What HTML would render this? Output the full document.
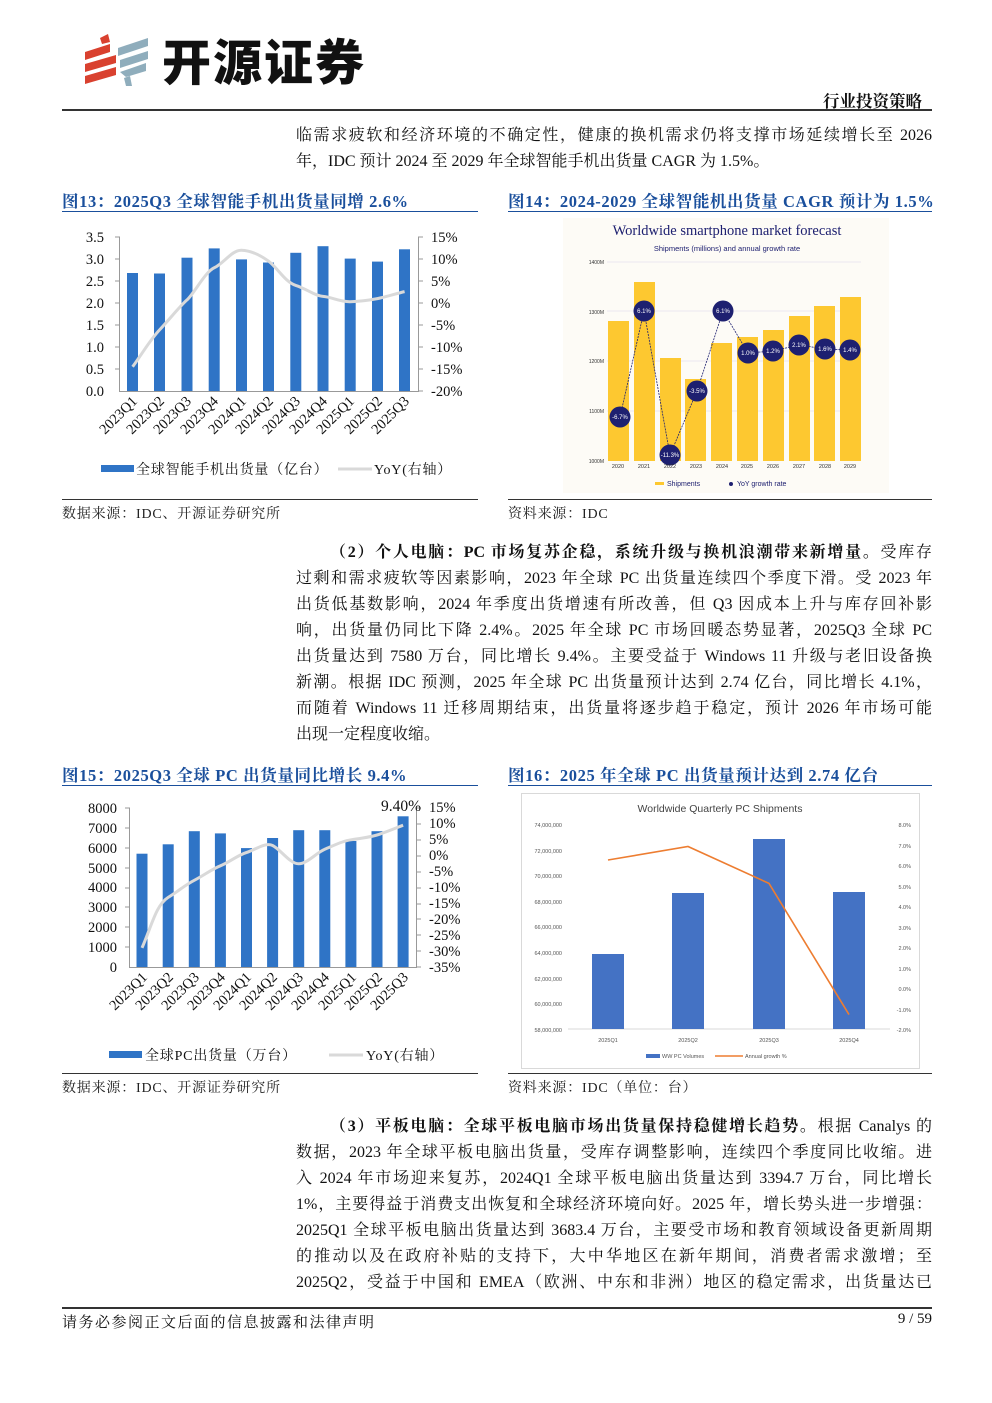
<!DOCTYPE html>
<html><head><meta charset="utf-8"><style>
*{margin:0;padding:0;box-sizing:border-box}
body{width:992px;height:1403px;background:#fff;position:relative;overflow:hidden;font-family:"Liberation Serif","Noto Serif CJK SC",serif;color:#111}
.a{position:absolute}
.ln{position:absolute;left:296px;width:636px;font-size:16px;line-height:26px;height:26px;white-space:nowrap;text-align:justify;text-align-last:justify}
.ln.l{text-align-last:left}
.ft{position:absolute;font-size:16.5px;font-weight:bold;color:#1a4f9c;white-space:nowrap;letter-spacing:0.6px}
.src{position:absolute;font-size:14px;color:#222;white-space:nowrap;letter-spacing:0.8px}
.sv text{font-family:"Liberation Serif","Noto Serif CJK SC",serif}
.ss text{font-family:"Liberation Sans",sans-serif}
.ss text.ser{font-family:"Liberation Serif",serif}
</style></head><body>
<!-- logo -->
<svg class="a" style="left:80px;top:30px" width="80" height="60" viewBox="0 0 80 60">
<g fill="#d9412f"><polygon points="5,22 30,14 30,22 5,30"/><polygon points="5,34 36,25 36,33 5,42"/><polygon points="5,46 36,37 36,45 5,54"/><polygon points="20,8 28,4 30,12 22,14"/></g>
<g fill="#8fadbc"><polygon points="38,18 68,8 68,16 38,26"/><polygon points="40,30 68,21 68,29 40,38"/><polygon points="40,42 66,33 66,41 46,47"/><polygon points="44,48 50,46 52,56 46,56"/></g>
</svg>
<div class="a" style="left:162px;top:28px;font-family:'Noto Sans CJK SC',sans-serif;font-weight:900;font-size:49px;line-height:64px;color:#111;letter-spacing:2px">开源证券</div>
<div class="a" style="left:823px;top:88px;font-size:16.5px;font-weight:bold;font-family:'Noto Serif CJK SC',serif">行业投资策略</div>
<div class="a" style="left:62px;top:109px;width:870px;height:1.5px;background:#333"></div>

<div class="ln" style="top:123px">临需求疲软和经济环境的不确定性，健康的换机需求仍将支撑市场延续增长至 2026</div>
<div class="ln l" style="top:149px">年，IDC 预计 2024 至 2029 年全球智能手机出货量 CAGR 为 1.5%。</div>

<div class="ft" style="left:62px;top:188px">图13：2025Q3 全球智能手机出货量同增 2.6%</div>
<div class="ft" style="left:508px;top:188px">图14：2024-2029 全球智能机出货量 CAGR 预计为 1.5%</div>
<div class="a" style="left:62px;top:211px;width:416px;height:1px;background:#1a4f9c"></div>
<div class="a" style="left:508px;top:211px;width:424px;height:1px;background:#1a4f9c"></div>

<!-- chart 13 -->
<svg class="a sv" style="left:0;top:0" width="496" height="500">
<g fill="#2f74c6">
<rect x="127" y="273" width="11" height="118"/><rect x="154" y="273.5" width="11" height="117.5"/><rect x="181.5" y="257.7" width="11" height="133.3"/><rect x="208.7" y="248.4" width="11" height="142.6"/><rect x="236" y="259.4" width="11" height="131.6"/><rect x="263" y="262.5" width="11" height="128.5"/><rect x="290.3" y="252.8" width="11" height="138.2"/><rect x="317.5" y="246.2" width="11" height="144.8"/><rect x="344.7" y="258.6" width="11" height="132.4"/><rect x="372" y="261.6" width="11" height="129.4"/><rect x="399" y="249.3" width="11" height="141.7"/>
</g>
<g stroke="#999" stroke-width="1" fill="none"><path d="M119.5 237V391.5H418.5V237"/>
<path d="M115 237h5M115 259h5M115 281h5M115 303h5M115 325h5M115 347h5M115 369h5M418 237h5M418 259h5M418 281h5M418 303h5M418 325h5M418 347h5M418 369h5M418 391h5"/></g>
<path d="M132.6 366.8 C146 348,150 340,159.8 329.6 S180 306,187 299.9 S205 272,214.2 267.8 S232 250,241.4 250.2 S260 255,268.6 261.2 S285 282,295.8 285.4 S315 296,323 296.4 S340 302,350.2 301.7 S370 300,377.4 298.6 S398 293,404.6 291.6" fill="none" stroke="#d9d9d9" stroke-width="3"/>
<g font-size="14.5" text-anchor="end" fill="#111"><text x="104" y="242">3.5</text><text x="104" y="264">3.0</text><text x="104" y="286">2.5</text><text x="104" y="308">2.0</text><text x="104" y="330">1.5</text><text x="104" y="352">1.0</text><text x="104" y="374">0.5</text><text x="104" y="396">0.0</text></g>
<g font-size="14.5" fill="#111"><text x="431" y="242">15%</text><text x="431" y="264">10%</text><text x="431" y="286">5%</text><text x="431" y="308">0%</text><text x="431" y="330">-5%</text><text x="431" y="352">-10%</text><text x="431" y="374">-15%</text><text x="431" y="396">-20%</text></g>
<g font-size="14.5" text-anchor="end" fill="#111">
<text transform="translate(138,402) rotate(-45)">2023Q1</text><text transform="translate(165,402) rotate(-45)">2023Q2</text><text transform="translate(192,402) rotate(-45)">2023Q3</text><text transform="translate(219,402) rotate(-45)">2023Q4</text><text transform="translate(247,402) rotate(-45)">2024Q1</text><text transform="translate(274,402) rotate(-45)">2024Q2</text><text transform="translate(301,402) rotate(-45)">2024Q3</text><text transform="translate(328,402) rotate(-45)">2024Q4</text><text transform="translate(355,402) rotate(-45)">2025Q1</text><text transform="translate(383,402) rotate(-45)">2025Q2</text><text transform="translate(410,402) rotate(-45)">2025Q3</text></g>
<rect x="101" y="465" width="33" height="7" fill="#2f74c6"/>
<text x="136" y="474" font-size="14" fill="#111" letter-spacing="0.8">全球智能手机出货量（亿台）</text>
<line x1="338" y1="469" x2="372" y2="469" stroke="#d9d9d9" stroke-width="3"/>
<text x="374" y="474" font-size="14" fill="#111" letter-spacing="0.8">YoY(右轴）</text>
</svg>

<!-- chart 14 -->
<svg class="a ss" style="left:563px;top:218px" width="326" height="275">
<rect width="326" height="275" fill="#fdfbf6"/>
<text class="ser" x="164" y="17" font-size="14.5" fill="#1e2070" text-anchor="middle">Worldwide smartphone market forecast</text>
<text x="164" y="33" font-size="7.5" fill="#1e2070" text-anchor="middle">Shipments (millions) and annual growth rate</text>
<g stroke="#e4e0ee" stroke-width="0.8"><line x1="44" y1="44" x2="298" y2="44"/><line x1="44" y1="93" x2="298" y2="93"/><line x1="44" y1="143" x2="298" y2="143"/><line x1="44" y1="193" x2="298" y2="193"/></g>
<g font-size="5" fill="#333" text-anchor="end"><text x="41" y="46">1400M</text><text x="41" y="96">1300M</text><text x="41" y="145">1200M</text><text x="41" y="195">1100M</text><text x="41" y="245">1000M</text></g>
<g fill="#fdc830">
<rect x="45" y="103" width="21" height="140"/><rect x="71" y="64" width="21" height="179"/><rect x="97" y="140" width="21" height="103"/><rect x="122" y="161" width="21" height="82"/><rect x="148" y="125" width="21" height="118"/><rect x="174" y="119" width="21" height="124"/><rect x="200" y="112" width="21" height="131"/><rect x="226" y="98" width="21" height="145"/><rect x="251" y="88" width="21" height="155"/><rect x="277" y="79" width="21" height="164"/>
</g>
<polyline points="57,199 81,93 107,237 134,173 160,93 185,135 210,133 236,127 262,131 287,132" fill="none" stroke="#1e2070" stroke-width="0.8" stroke-dasharray="2,1"/>
<g fill="#1e2070"><circle cx="57" cy="199" r="10.5"/><circle cx="81" cy="93" r="10.5"/><circle cx="107" cy="237" r="10.5"/><circle cx="134" cy="173" r="10.5"/><circle cx="160" cy="93" r="10.5"/><circle cx="185" cy="135" r="10.5"/><circle cx="210" cy="133" r="10.5"/><circle cx="236" cy="127" r="10.5"/><circle cx="262" cy="131" r="10.5"/><circle cx="287" cy="132" r="10.5"/></g>
<g font-size="6" fill="#fff" text-anchor="middle"><text x="57" y="201">-6.7%</text><text x="81" y="95">6.1%</text><text x="107" y="239">-11.3%</text><text x="134" y="175">-3.5%</text><text x="160" y="95">6.1%</text><text x="185" y="137">1.0%</text><text x="210" y="135">1.2%</text><text x="236" y="129">2.1%</text><text x="262" y="133">1.6%</text><text x="287" y="134">1.4%</text></g>
<g font-size="5.5" fill="#333" text-anchor="middle"><text x="55" y="250">2020</text><text x="81" y="250">2021</text><text x="107" y="250">2022</text><text x="133" y="250">2023</text><text x="159" y="250">2024</text><text x="184" y="250">2025</text><text x="210" y="250">2026</text><text x="236" y="250">2027</text><text x="262" y="250">2028</text><text x="287" y="250">2029</text></g>
<rect x="92" y="264" width="9" height="3" fill="#fdc830"/><text x="104" y="268" font-size="7" fill="#1e2070">Shipments</text>
<circle cx="168" cy="266" r="2" fill="#1e2070"/><text x="174" y="268" font-size="7" fill="#1e2070">YoY growth rate</text>
</svg>

<div class="a" style="left:62px;top:499px;width:416px;height:1px;background:#333"></div>
<div class="a" style="left:508px;top:499px;width:424px;height:1px;background:#333"></div>
<div class="src" style="left:62px;top:503px">数据来源：IDC、开源证券研究所</div>
<div class="src" style="left:508px;top:503px">资料来源：IDC</div>

<div class="ln" style="top:540px;left:330px;width:602px"><b>（2）个人电脑：PC 市场复苏企稳，系统升级与换机浪潮带来新增量。</b>受库存</div>
<div class="ln" style="top:566px">过剩和需求疲软等因素影响，2023 年全球 PC 出货量连续四个季度下滑。受 2023 年</div>
<div class="ln" style="top:592px">出货低基数影响，2024 年季度出货增速有所改善，但 Q3 因成本上升与库存回补影</div>
<div class="ln" style="top:618px">响，出货量仍同比下降 2.4%。2025 年全球 PC 市场回暖态势显著，2025Q3 全球 PC</div>
<div class="ln" style="top:644px">出货量达到 7580 万台，同比增长 9.4%。主要受益于 Windows 11 升级与老旧设备换</div>
<div class="ln" style="top:670px">新潮。根据 IDC 预测，2025 年全球 PC 出货量预计达到 2.74 亿台，同比增长 4.1%，</div>
<div class="ln" style="top:696px">而随着 Windows 11 迁移周期结束，出货量将逐步趋于稳定，预计 2026 年市场可能</div>
<div class="ln l" style="top:722px">出现一定程度收缩。</div>

<div class="ft" style="left:62px;top:762px">图15：2025Q3 全球 PC 出货量同比增长 9.4%</div>
<div class="ft" style="left:508px;top:762px">图16：2025 年全球 PC 出货量预计达到 2.74 亿台</div>
<div class="a" style="left:62px;top:785px;width:416px;height:1px;background:#1a4f9c"></div>
<div class="a" style="left:508px;top:785px;width:424px;height:1px;background:#1a4f9c"></div>

<!-- chart 15 -->
<svg class="a sv" style="left:0;top:0" width="496" height="1080">
<g fill="#2f74c6">
<rect x="136.5" y="853.7" width="11" height="113.3"/><rect x="162.7" y="844.3" width="11" height="122.7"/><rect x="188.8" y="831.2" width="11" height="135.8"/><rect x="214.9" y="833.4" width="11" height="133.6"/><rect x="241" y="848.1" width="11" height="118.9"/><rect x="267.1" y="838" width="11" height="129"/><rect x="293.2" y="830.2" width="11" height="136.8"/><rect x="319.3" y="830.2" width="11" height="136.8"/><rect x="345.4" y="841" width="11" height="126"/><rect x="371.5" y="831.2" width="11" height="135.8"/><rect x="397.6" y="816.3" width="11" height="150.7"/>
</g>
<g stroke="#999" stroke-width="1" fill="none"><path d="M129.5 808V967.5H416.5V808"/>
<path d="M125 808h5M125 828h5M125 848h5M125 868h5M125 888h5M125 907h5M125 927h5M125 947h5M416 808h5M416 824h5M416 840h5M416 856h5M416 872h5M416 888h5M416 904h5M416 919h5M416 935h5M416 951h5M416 967h5"/></g>
<path d="M142 947.9 C152 925,156 905,168.2 897.4 S185 885,194.3 880.3 S212 869,220.4 865.8 S238 855,246.5 852.5 S265 842,272.6 845.5 S290 864,298.7 863.8 S316 853,324.8 849.3 S342 841,350.9 839.8 S370 837,377 835 S396 828,403.1 825.2" fill="none" stroke="#d9d9d9" stroke-width="3"/>
<g font-size="14.5" text-anchor="end" fill="#111"><text x="117" y="813">8000</text><text x="117" y="833">7000</text><text x="117" y="853">6000</text><text x="117" y="873">5000</text><text x="117" y="892">4000</text><text x="117" y="912">3000</text><text x="117" y="932">2000</text><text x="117" y="952">1000</text><text x="117" y="972">0</text></g>
<g font-size="14.5" fill="#111"><text x="429" y="812">15%</text><text x="429" y="828">10%</text><text x="429" y="844">5%</text><text x="429" y="860">0%</text><text x="429" y="876">-5%</text><text x="429" y="892">-10%</text><text x="429" y="908">-15%</text><text x="429" y="924">-20%</text><text x="429" y="940">-25%</text><text x="429" y="956">-30%</text><text x="429" y="972">-35%</text></g>
<text x="381" y="811" font-size="15.5" fill="#111">9.40%</text>
<g font-size="14.5" text-anchor="end" fill="#111">
<text transform="translate(148,978) rotate(-45)">2023Q1</text><text transform="translate(174,978) rotate(-45)">2023Q2</text><text transform="translate(200,978) rotate(-45)">2023Q3</text><text transform="translate(226,978) rotate(-45)">2023Q4</text><text transform="translate(252,978) rotate(-45)">2024Q1</text><text transform="translate(278,978) rotate(-45)">2024Q2</text><text transform="translate(304,978) rotate(-45)">2024Q3</text><text transform="translate(330,978) rotate(-45)">2024Q4</text><text transform="translate(357,978) rotate(-45)">2025Q1</text><text transform="translate(383,978) rotate(-45)">2025Q2</text><text transform="translate(409,978) rotate(-45)">2025Q3</text></g>
<rect x="109" y="1051" width="33" height="7" fill="#2f74c6"/>
<text x="145" y="1060" font-size="14" fill="#111" letter-spacing="0.8">全球PC出货量（万台）</text>
<line x1="329" y1="1055" x2="363" y2="1055" stroke="#d9d9d9" stroke-width="3"/>
<text x="366" y="1060" font-size="14" fill="#111" letter-spacing="0.8">YoY(右轴）</text>
</svg>

<!-- chart 16 -->
<svg class="a ss" style="left:521px;top:793px" width="399" height="276">
<rect x="0.5" y="0.5" width="398" height="275" fill="#fff" stroke="#d9d9d9"/>
<g transform="translate(-521,-793)">
<text x="720" y="812" font-size="10.5" fill="#444" text-anchor="middle">Worldwide Quarterly PC Shipments</text>
<line x1="568" y1="1029" x2="890" y2="1029" stroke="#d9d9d9"/>
<g fill="#4472c4"><rect x="592" y="954" width="32" height="75"/><rect x="672" y="893" width="32" height="136"/><rect x="753" y="839" width="32" height="190"/><rect x="833" y="892" width="32" height="137"/></g>
<polyline points="608,860 688,846.5 769,883.4 849,1014.6" fill="none" stroke="#ed7d31" stroke-width="1.6"/>
<g font-size="5.5" fill="#555" text-anchor="end"><text x="562" y="827">74,000,000</text><text x="562" y="853">72,000,000</text><text x="562" y="878">70,000,000</text><text x="562" y="904">68,000,000</text><text x="562" y="929">66,000,000</text><text x="562" y="955">64,000,000</text><text x="562" y="981">62,000,000</text><text x="562" y="1006">60,000,000</text><text x="562" y="1032">58,000,000</text></g>
<g font-size="5.5" fill="#555" text-anchor="end"><text x="911" y="827">8.0%</text><text x="911" y="848">7.0%</text><text x="911" y="868">6.0%</text><text x="911" y="889">5.0%</text><text x="911" y="909">4.0%</text><text x="911" y="930">3.0%</text><text x="911" y="950">2.0%</text><text x="911" y="971">1.0%</text><text x="911" y="991">0.0%</text><text x="911" y="1012">-1.0%</text><text x="911" y="1032">-2.0%</text></g>
<g font-size="5.5" fill="#555" text-anchor="middle"><text x="608" y="1042">2025Q1</text><text x="688" y="1042">2025Q2</text><text x="769" y="1042">2025Q3</text><text x="849" y="1042">2025Q4</text></g>
<rect x="646" y="1054" width="14" height="4" fill="#4472c4"/><text x="662" y="1058" font-size="5.5" fill="#555">WW PC Volumes</text>
<line x1="715" y1="1056" x2="743" y2="1056" stroke="#ed7d31" stroke-width="1.5"/><text x="745" y="1058" font-size="5.5" fill="#555">Annual growth %</text>
</g>
</svg>

<div class="a" style="left:62px;top:1073px;width:416px;height:1px;background:#333"></div>
<div class="a" style="left:508px;top:1073px;width:424px;height:1px;background:#333"></div>
<div class="src" style="left:62px;top:1077px">数据来源：IDC、开源证券研究所</div>
<div class="src" style="left:508px;top:1077px">资料来源：IDC（单位：台）</div>

<div class="ln" style="top:1114px;left:330px;width:602px"><b>（3）平板电脑：全球平板电脑市场出货量保持稳健增长趋势。</b>根据 Canalys 的</div>
<div class="ln" style="top:1140px">数据，2023 年全球平板电脑出货量，受库存调整影响，连续四个季度同比收缩。进</div>
<div class="ln" style="top:1166px">入 2024 年市场迎来复苏，2024Q1 全球平板电脑出货量达到 3394.7 万台，同比增长</div>
<div class="ln" style="top:1192px">1%，主要得益于消费支出恢复和全球经济环境向好。2025 年，增长势头进一步增强：</div>
<div class="ln" style="top:1218px">2025Q1 全球平板电脑出货量达到 3683.4 万台，主要受市场和教育领域设备更新周期</div>
<div class="ln" style="top:1244px">的推动以及在政府补贴的支持下，大中华地区在新年期间，消费者需求激增；至</div>
<div class="ln" style="top:1270px">2025Q2，受益于中国和 EMEA（欧洲、中东和非洲）地区的稳定需求，出货量达已</div>

<div class="a" style="left:62px;top:1307px;width:870px;height:1.5px;background:#333"></div>
<div class="a" style="left:62px;top:1311px;font-size:15px;letter-spacing:1.5px">请务必参阅正文后面的信息披露和法律声明</div>
<div class="a" style="left:870px;top:1311px;font-size:15px;width:62px;text-align:right">9 / 59</div>
</body></html>
